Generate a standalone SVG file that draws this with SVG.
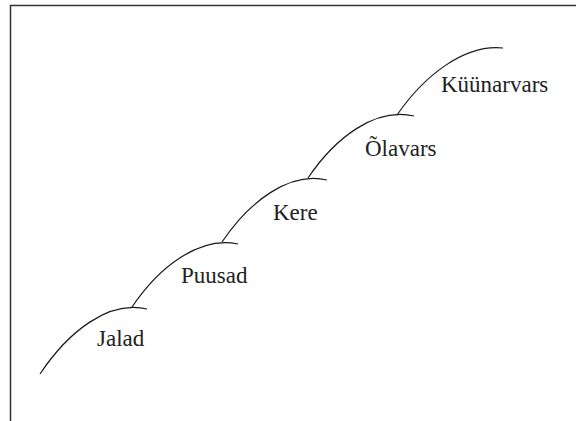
<svg xmlns="http://www.w3.org/2000/svg" width="576" height="421" viewBox="0 0 576 421">
<style>
.frame{fill:none;stroke:#333;stroke-width:1.5}
.arc{fill:none;stroke:#1a1a1a;stroke-width:1.2}
text{font-family:'Liberation Serif','DejaVu Serif','Times New Roman',serif;font-size:23px;fill:#222}
</style>
<rect x="0" y="0" width="576" height="421" fill="#fff"/>
<path class="frame" d="M10.5,421 V5.5 H576"/>
<g id="connectors">
<path class="arc" d="M40,374 C68,332 108,300 147,309"/>
<path class="arc" d="M132,307 C159,267 199,236 238,244"/>
<path class="arc" d="M222,242 C249,202 289,171 327,180"/>
<path class="arc" d="M308,178 C335,138 375,107 414,116"/>
<path class="arc" d="M397,115 C424,76 464,44 503,48"/>
</g>
<g id="jalad"><text x="97" y="346">Jalad</text></g>
<g id="puusad"><text x="181" y="283">Puusad</text></g>
<g id="kere"><text x="273" y="220">Kere</text></g>
<g id="olavars"><text x="365" y="156">Õlavars</text></g>
<g id="kyynarvars"><text x="441" y="92">Küünarvars</text></g>
</svg>
